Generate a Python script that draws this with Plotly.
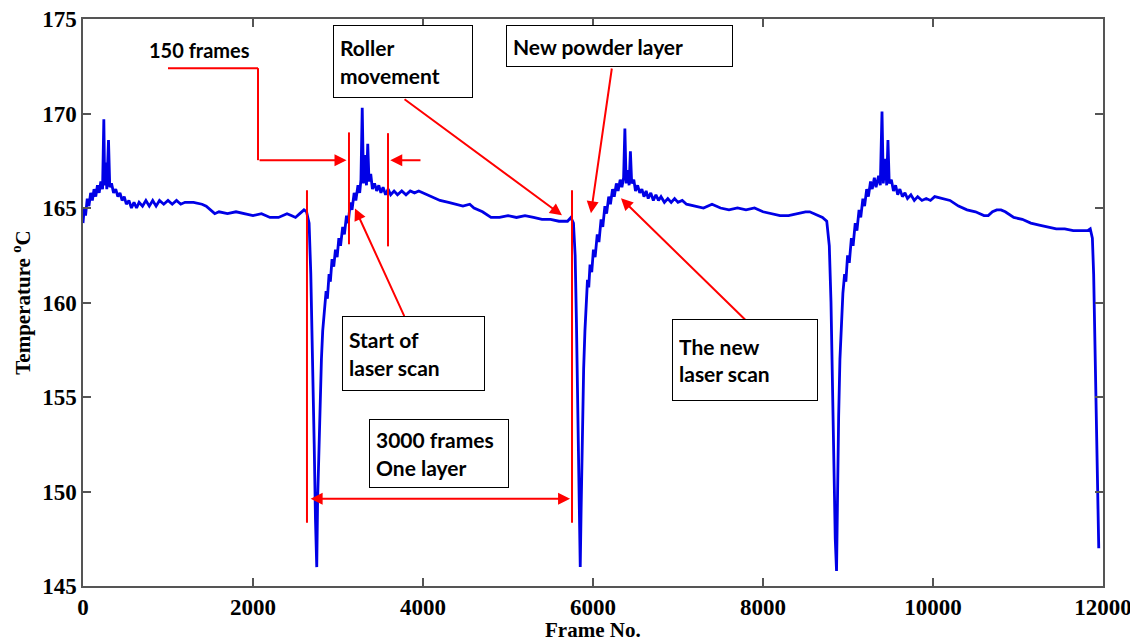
import plotly.graph_objects as go

frames = [0, 15, 30, 50, 70, 90, 110, 130, 150, 170, 190, 210, 230, 245, 255, 270, 280, 300, 315, 335,
          360, 385, 410, 435, 460, 485, 510, 540, 570, 600, 630, 660, 700, 740, 780, 820, 860, 900, 950, 1000,
          1050, 1100, 1150, 1200, 1300, 1400, 1450, 1500, 1550, 1600, 1700, 1800, 1900, 2000, 2100, 2200, 2300, 2400, 2450, 2500,
          2550, 2600, 2630, 2660, 2680, 2700, 2720, 2735, 2750, 2760, 2775, 2790, 2805, 2820, 2840, 2860, 2875, 2895, 2910, 2930,
          2950, 2970, 2990, 3010, 3030, 3055, 3075, 3100, 3120, 3145, 3165, 3190, 3210, 3235, 3255, 3270, 3285, 3300, 3320, 3335,
          3350, 3365, 3385, 3405, 3430, 3455, 3480, 3505, 3530, 3560, 3590, 3620, 3660, 3700, 3750, 3800, 3850, 3900, 3950, 4000,
          4100, 4200, 4300, 4400, 4470, 4550, 4600, 4700, 4800, 4900, 5000, 5100, 5200, 5300, 5400, 5500, 5600, 5700, 5740, 5770,
          5790, 5805, 5820, 5835, 5850, 5860, 5875, 5890, 5905, 5920, 5935, 5950, 5965, 5985, 6005, 6025, 6050, 6070, 6095, 6115,
          6140, 6160, 6185, 6205, 6230, 6250, 6275, 6295, 6320, 6340, 6360, 6375, 6390, 6410, 6425, 6440, 6455, 6480, 6500, 6525,
          6550, 6575, 6600, 6625, 6650, 6680, 6710, 6740, 6770, 6800, 6840, 6880, 6920, 6960, 7000, 7050, 7100, 7200, 7300, 7400,
          7450, 7500, 7600, 7700, 7800, 7900, 8000, 8100, 8200, 8300, 8400, 8500, 8550, 8600, 8700, 8750, 8780, 8800, 8815, 8830,
          8850, 8865, 8875, 8890, 8905, 8920, 8940, 8960, 8975, 8995, 9015, 9040, 9060, 9085, 9105, 9130, 9150, 9175, 9195, 9220,
          9240, 9265, 9285, 9310, 9330, 9360, 9380, 9400, 9415, 9440, 9455, 9470, 9485, 9510, 9535, 9560, 9585, 9610, 9640, 9670,
          9700, 9740, 9780, 9820, 9870, 9920, 9970, 10020, 10100, 10200, 10300, 10400, 10500, 10600, 10650, 10700, 10750, 10800, 10850, 10950,
          11050, 11150, 11250, 11350, 11450, 11550, 11650, 11750, 11820, 11850, 11875, 11890, 11905, 11920, 11935, 11950]

temps = [164.2, 165.0, 164.6, 165.5, 165.1, 165.8, 165.4, 166.0, 165.6, 166.2, 165.8, 166.4, 166.0, 169.7, 166.2, 167.4, 166.0, 168.6, 166.1, 166.3,
         165.8, 166.0, 165.6, 165.8, 165.4, 165.6, 165.2, 165.4, 165.0, 165.3, 165.0, 165.3, 165.1, 165.4, 165.1, 165.4, 165.1, 165.4, 165.2, 165.4,
         165.2, 165.4, 165.2, 165.3, 165.3, 165.2, 165.1, 164.9, 164.7, 164.8, 164.7, 164.8, 164.7, 164.6, 164.7, 164.5, 164.5, 164.7, 164.6, 164.5,
         164.7, 164.9, 164.8, 164.2, 161.5, 157.5, 152.5, 148.5, 146.0, 149.5, 152.5, 155.5, 157.0, 158.5, 159.5, 160.6, 160.2, 161.5, 161.1, 162.3,
         161.9, 162.8, 162.4, 163.4, 163.0, 164.0, 163.6, 164.6, 164.2, 165.3, 164.9, 165.8, 165.4, 166.2, 165.8, 166.5, 170.3, 166.3, 167.8, 166.2,
         168.4, 166.4, 166.8, 166.0, 166.3, 165.9, 166.2, 165.8, 166.1, 165.7, 166.0, 165.7, 165.9, 165.7, 165.9, 165.7, 165.9, 165.8, 165.9, 165.8,
         165.6, 165.4, 165.3, 165.2, 165.1, 165.2, 165.0, 164.8, 164.5, 164.5, 164.6, 164.5, 164.6, 164.5, 164.4, 164.4, 164.3, 164.3, 164.5, 164.2,
         162.5, 159.0, 155.0, 151.0, 146.0, 149.0, 153.0, 156.5, 158.5, 160.0, 161.2, 160.8, 162.0, 161.6, 162.8, 162.4, 163.6, 163.2, 164.4, 164.0,
         165.1, 164.7, 165.6, 165.2, 166.0, 165.6, 166.3, 165.9, 166.5, 166.1, 166.6, 169.2, 166.3, 167.0, 166.2, 168.0, 166.3, 166.5, 165.9, 166.2,
         165.8, 166.0, 165.6, 165.9, 165.5, 165.8, 165.4, 165.7, 165.4, 165.6, 165.3, 165.5, 165.3, 165.5, 165.3, 165.4, 165.2, 165.1, 165.0, 165.2,
         165.1, 165.0, 164.9, 165.0, 164.9, 165.0, 164.8, 164.7, 164.6, 164.6, 164.7, 164.8, 164.8, 164.7, 164.5, 164.3, 163.0, 160.0, 156.0, 152.0,
         147.5, 145.8, 150.0, 154.0, 157.0, 159.0, 160.5, 161.5, 161.1, 162.5, 162.1, 163.4, 163.0, 164.2, 163.8, 164.9, 164.5, 165.5, 165.1, 166.0,
         165.6, 166.4, 166.0, 166.6, 166.1, 166.7, 166.2, 170.1, 166.3, 167.6, 166.2, 168.6, 166.3, 166.5, 165.9, 166.2, 165.7, 166.0, 165.6, 165.8,
         165.5, 165.7, 165.4, 165.6, 165.4, 165.5, 165.4, 165.6, 165.5, 165.4, 165.1, 164.9, 164.8, 164.6, 164.6, 164.8, 164.9, 164.9, 164.8, 164.5,
         164.4, 164.2, 164.1, 164.0, 163.9, 163.9, 163.8, 163.8, 163.8, 163.9, 163.4, 161.5, 158.0, 154.0, 150.0, 147.0]

x_ticks = [0, 2000, 4000, 6000, 8000, 10000, 12000]
y_ticks = [145, 150, 155, 160, 165, 170, 175]

RED = "#FF0000"
TXT = "Lato"
fig = go.Figure()
fig.add_trace(go.Scatter(x=frames, y=temps, mode="lines",
                         line=dict(color="#0000E6", width=2.8), showlegend=False))

# red guide lines (data coordinates)
lines = [
    (1000, 172.4, 2059, 172.4),
    (2059, 172.4, 2059, 167.53),
    (3129, 169.0, 3129, 163.08),
    (3588, 168.96, 3588, 162.97),
    (2635, 165.94, 2635, 148.34),
    (5753, 165.94, 5753, 148.34),
]
for x0, y0, x1, y1 in lines:
    fig.add_shape(type="line", x0=x0, y0=y0, x1=x1, y1=y1, xref="x", yref="y",
                  line=dict(color=RED, width=2))

arrows = [
    # (tail_x, tail_y, tip_x, tip_y)
    (2059, 167.53, 3100, 167.53),
    (3988, 167.53, 3615, 167.53),
    (3765, 170.81, 5635, 164.61),
    (6224, 172.46, 5976, 164.72),
    (3788, 159.2, 3200, 164.98),
    (7824, 158.94, 6329, 165.51),
]
for ax, ay, x, y in arrows:
    fig.add_annotation(x=x, y=y, ax=ax, ay=ay, xref="x", yref="y", axref="x", ayref="y",
                       showarrow=True, arrowhead=2, arrowsize=1.2, arrowwidth=2,
                       arrowcolor=RED, text="")
fig.add_annotation(x=5730, y=149.62, ax=2660, ay=149.62, xref="x", yref="y", axref="x", ayref="y",
                   showarrow=True, arrowhead=2, startarrowhead=2, arrowside="end+start",
                   arrowsize=1.2, startarrowsize=1.2, arrowwidth=2, arrowcolor=RED, text="")

fig.add_annotation(x=1376, y=173.36, xref="x", yref="y", text="150 frames", showarrow=False,
                   font=dict(family=TXT, size=20, color="black", weight="bold"))

boxes = [
    ("Roller<br>movement", 3765, 172.75, 148, 73),
    ("New powder layer", 6312, 173.57, 235, 42),
    ("Start of<br>laser scan", 3888, 157.3, 151, 75),
    ("3000 frames<br>One layer", 4188, 152.03, 148, 69),
    ("The new<br>laser scan", 7788, 156.98, 154, 82),
]
for txt, bx, by, bw, bh in boxes:
    fig.add_annotation(x=bx, y=by, xref="x", yref="y", text=txt, showarrow=False,
                       align="left", width=bw - 22, height=bh - 14, borderpad=6,
                       bordercolor="black", borderwidth=1, bgcolor="white",
                       font=dict(family=TXT, size=21, color="black", weight="bold"))

# x-axis title placed just under the tick labels
fig.add_annotation(x=0.5, y=0, xref="paper", yref="paper", yanchor="top", yshift=-30,
                   text="Frame No.", showarrow=False,
                   font=dict(family="Liberation Serif", size=21, color="black", weight="bold"))

axis_common = dict(showline=True, linecolor="#555555", linewidth=1.5, mirror="ticks",
                   ticks="inside", ticklen=8, tickcolor="#555555", tickwidth=1.5,
                   showgrid=False, zeroline=False, automargin=False,
                   ticklabeloverflow="allow",
                   tickfont=dict(family="Liberation Serif", size=23, color="black", weight="bold"))

fig.update_layout(
    width=1138, height=640,
    margin=dict(l=75, r=43, t=11, b=62),
    paper_bgcolor="white", plot_bgcolor="white",
    xaxis=dict(range=[0, 12000], tickvals=x_ticks, ticktext=[str(v) for v in x_ticks],
               **axis_common),
    yaxis=dict(range=[145, 175], tickvals=y_ticks, ticktext=[str(v) for v in y_ticks],
               title=dict(text="Temperature <sup>o</sup>C", standoff=14,
                          font=dict(family="Liberation Serif", size=21, color="black", weight="bold")),
               **axis_common),
)

fig.write_html("out.html")
